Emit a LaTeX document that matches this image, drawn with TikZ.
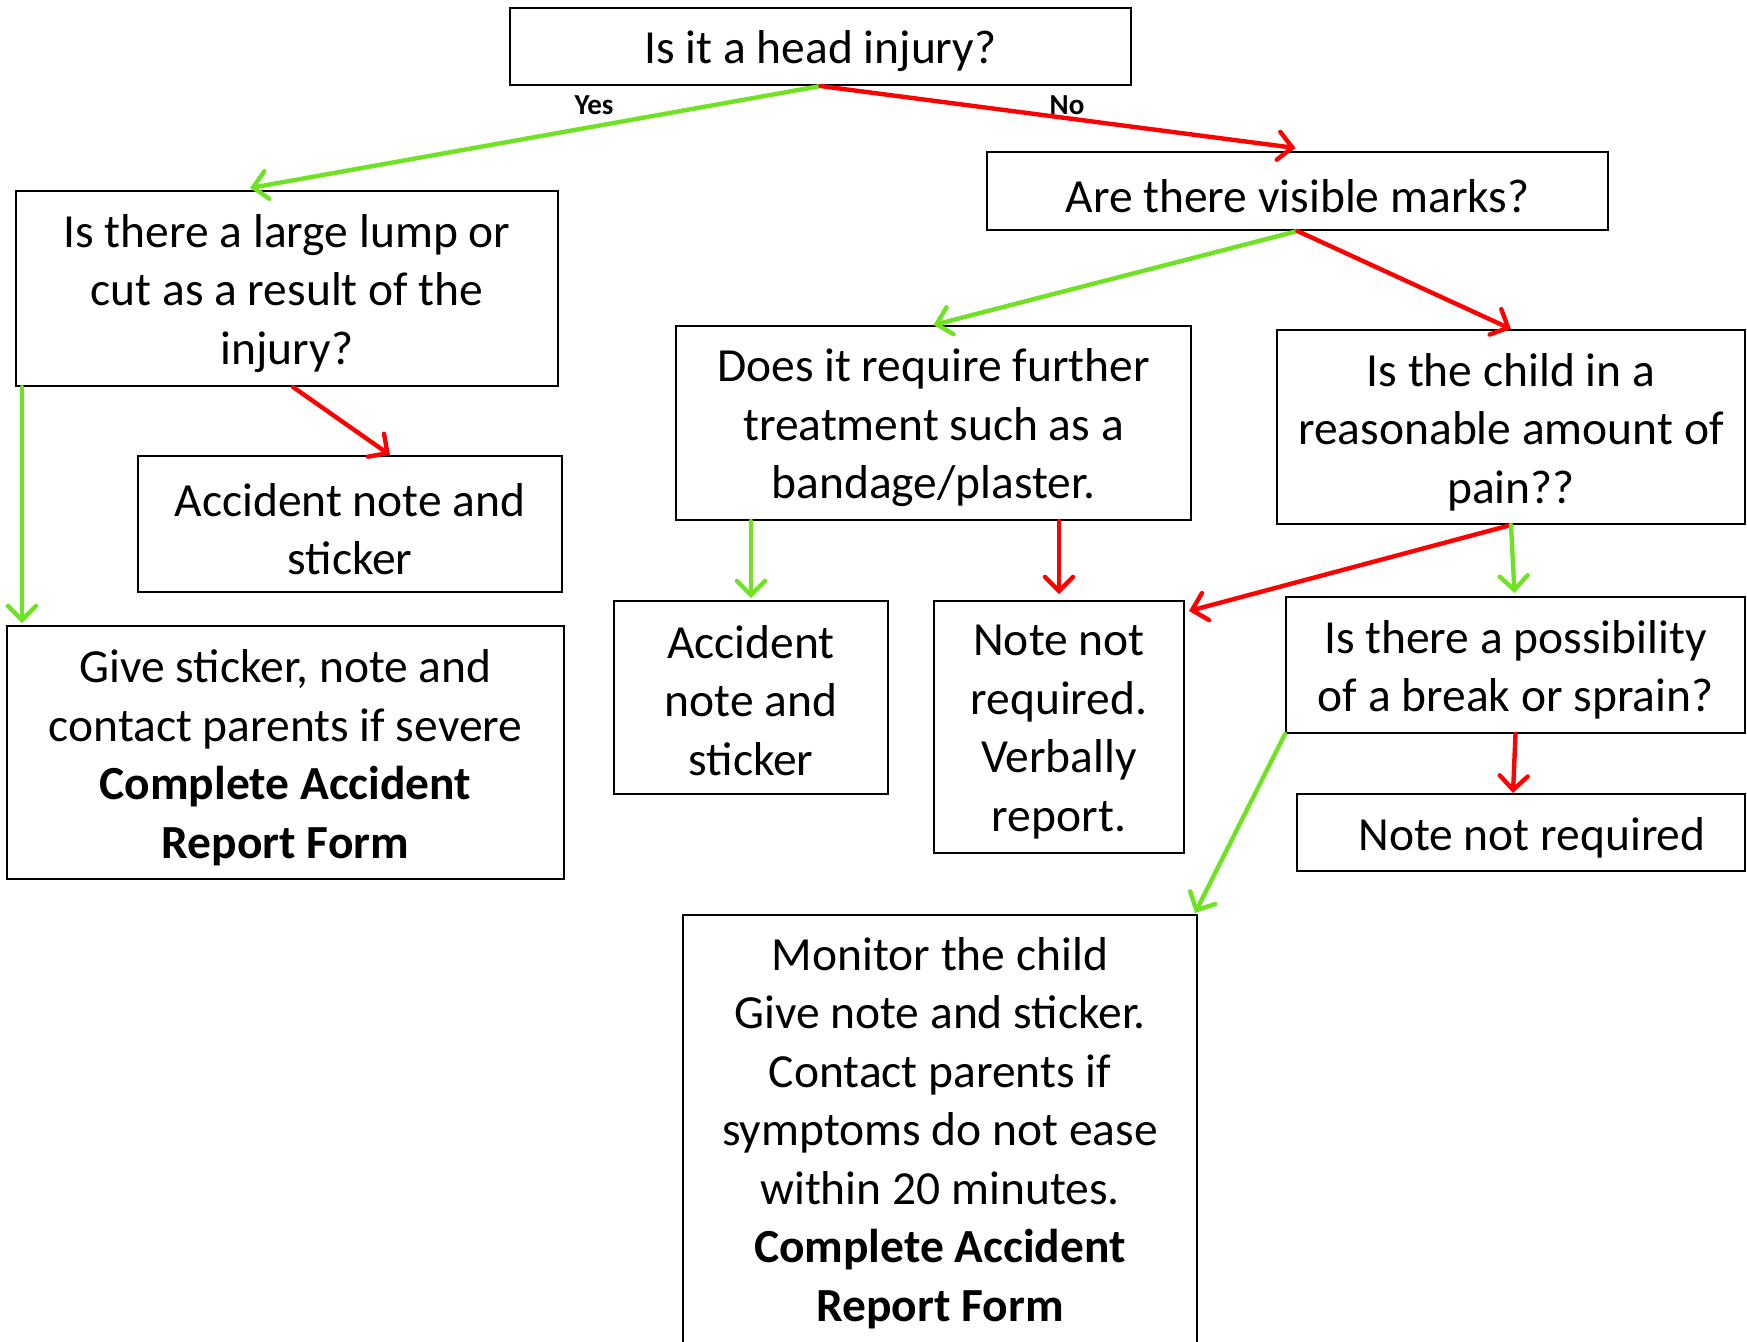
\documentclass[tikz,border=0pt]{standalone}
\usepackage{fontspec}
\setmainfont{Carlito}
\usetikzlibrary{arrows.meta,calc}
\definecolor{yesgreen}{RGB}{112,226,36}
\definecolor{nored}{RGB}{255,0,0}
\begin{document}
\begin{tikzpicture}[x=0.5pt,y=-0.5pt,
  box/.style={draw=black, line width=1pt, inner sep=0pt},
  txt/.style={inner sep=0pt, align=center,
    font=\fontsize{23.75}{29.25}\selectfont},
  yarr/.style={draw=yesgreen, line width=2.2pt, line cap=round,
    -{Straight Barb[length=7pt,width=14pt,line cap=round]}},
  narr/.style={draw=nored, line width=2.2pt, line cap=round,
    -{Straight Barb[length=7pt,width=14pt,line cap=round]}},
  lbl/.style={font=\bfseries\fontsize{14.5}{17}\selectfont, inner sep=0pt}]
\useasboundingbox (0,0) rectangle (1747,1341);
\fill[white] (0,0) rectangle (1747,1341);

\node[box, minimum width=310.5pt, minimum height=38.5pt] (head) at (820.5,46.5) {};
\node[box, minimum width=271pt, minimum height=97.5pt] (lump) at (287,288.5) {};
\node[box, minimum width=212pt, minimum height=68pt] (acc1) at (350,524) {};
\node[box, minimum width=278.5pt, minimum height=126.5pt] (give) at (285.5,752.5) {};
\node[box, minimum width=310.5pt, minimum height=39pt] (vis) at (1297.5,191) {};
\node[box, minimum width=257.5pt, minimum height=97pt] (further) at (933.5,423) {};
\node[box, minimum width=234pt, minimum height=97pt] (pain) at (1511,427) {};
\node[box, minimum width=137pt, minimum height=96.5pt] (acc2) at (751,697.5) {};
\node[box, minimum width=125pt, minimum height=126pt] (notnot) at (1059,727) {};
\node[box, minimum width=229.5pt, minimum height=68pt] (brk) at (1515.5,665) {};
\node[box, minimum width=224pt, minimum height=38.5pt] (notreq) at (1521,832.5) {};
\node[box, minimum width=257pt, minimum height=216pt] (monitor) at (940,1131) {};

\node[txt] (headt) at ($(head.center)+(0,5)$) {Is it a head injury?};
\node[txt] (lumpt) at ($(lump.center)+(0,5)$) {Is there a large lump or\\cut as a result of the\\injury?};
\node[txt] (acc1t) at ($(acc1.center)+(0,5)$) {Accident note and\\sticker};
\node[txt] (givet) at ($(give.center)+(0,5)$) {Give sticker, note and\\contact parents if severe\\\textbf{Complete Accident}\\\textbf{Report Form}};
\node[txt] (vist) at ($(vis.center)+(0,5)$) {Are there visible marks?};
\node[txt] (furthert) at ($(further.center)+(0,5)$) {Does it require further\\treatment such as a\\bandage/plaster.};
\node[txt] (paint) at ($(pain.center)+(0,5)$) {Is the child in a\\reasonable amount of\\pain??};
\node[txt] (acc2t) at ($(acc2.center)+(0,3)$) {Accident\\note and\\sticker};
\node[txt] (notnott) at ($(notnot.center)+(0,5)$) {Note not\\required.\\Verbally\\report.};
\node[txt] (brkt) at ($(brk.center)+(0,5)$) {Is there a possibility\\of a break or sprain?};
\node[txt] (notreqt) at ($(notreq.center)+(11,5)$) {Note not required};
\node[txt] (monitort) at ($(monitor.center)+(0,2)$) {Monitor the child\\Give note and sticker.\\Contact parents if\\symptoms do not ease\\within 20 minutes.\\\textbf{Complete Accident}\\\textbf{Report Form}};

\node[lbl] (yes) at (594,105) {Yes};
\node[lbl] (no) at (1067,105) {No};

\draw[yarr] (head.south) -- ($(lump.north west)+(235,-2)$);
\draw[narr] (head.south) -- ($(vis.north)+(-2,-3)$);
\draw[yarr] (vis.south) -- (further.north);
\draw[narr] (vis.south) -- (pain.north);
\draw[yarr] ($(lump.south west)+(7,0)$) -- ($(give.north west)+(16,-2)$);
\draw[narr] ($(lump.south)+(6,0)$) -- ($(acc1.north)+(40,0)$);
\draw[yarr] (further.south -| acc2.north) -- ($(acc2.north)+(0,-2)$);
\draw[narr] (further.south -| notnot.north) -- ($(notnot.north)+(0,-6)$);
\draw[narr] (pain.south) -- ($(notnot.north east)+(4,11)$);
\draw[yarr] (pain.south) -- ($(brk.north)+(-1,-3)$);
\draw[narr] (brk.south) -- ($(notreq.north)+(-8,0)$);
\draw[yarr] (brk.south west) -- ($(monitor.north east)+(-3,-1)$);
\end{tikzpicture}
\end{document}
